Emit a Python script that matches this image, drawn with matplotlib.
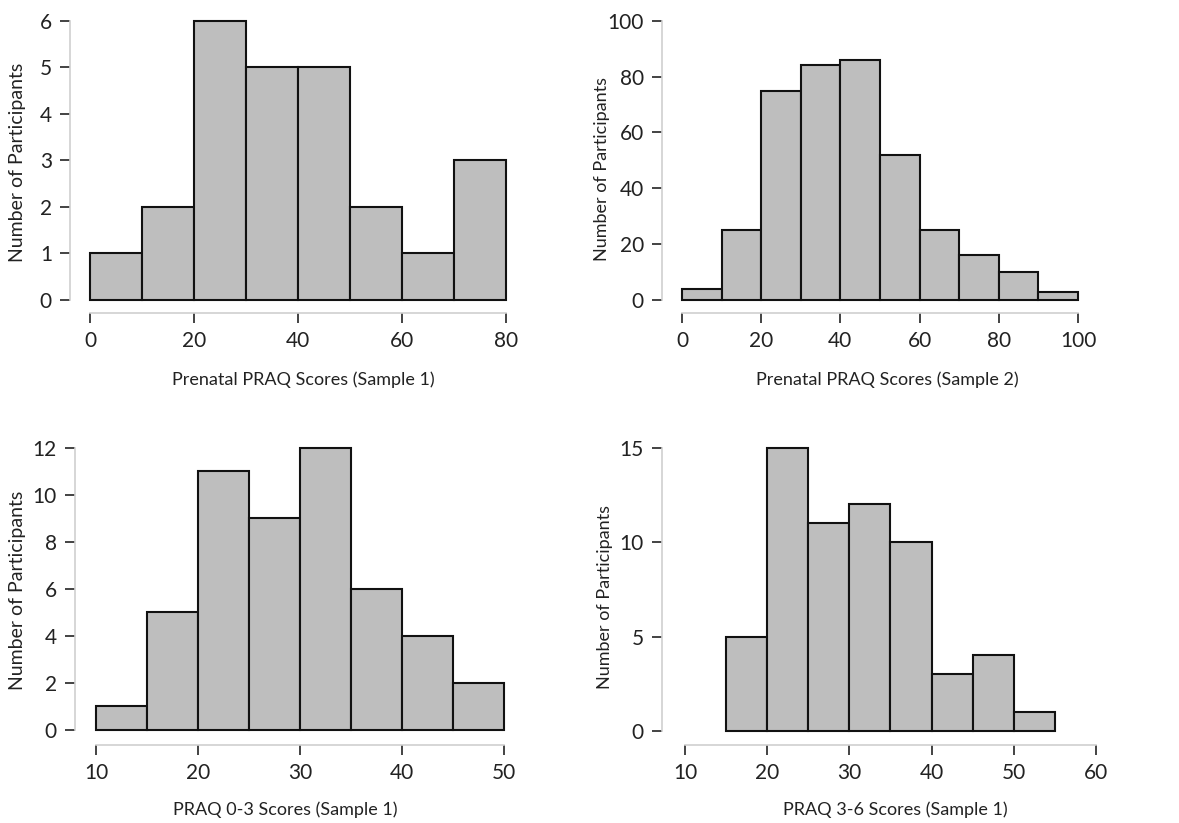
import numpy as np
import matplotlib.pyplot as plt

plt.rcParams['font.family'] = ['Lato', 'DejaVu Sans']

# histogram counts and bin edges
edges_prenatal_1 = [0, 10, 20, 30, 40, 50, 60, 70, 80]
counts_prenatal_1 = [1, 2, 6, 5, 5, 2, 1, 3]

edges_prenatal_2 = [0, 10, 20, 30, 40, 50, 60, 70, 80, 90, 100]
counts_prenatal_2 = [4, 25, 75, 84, 86, 52, 25, 16, 10, 3]

edges_praq_03 = [10, 15, 20, 25, 30, 35, 40, 45, 50]
counts_praq_03 = [1, 5, 11, 9, 12, 6, 4, 2]

edges_praq_36 = [15, 20, 25, 30, 35, 40, 45, 50, 55]
counts_praq_36 = [5, 15, 11, 12, 10, 3, 4, 1]

xticks_1 = [0, 20, 40, 60, 80]
yticks_1 = [0, 1, 2, 3, 4, 5, 6]
xticks_2 = [0, 20, 40, 60, 80, 100]
yticks_2 = [0, 20, 40, 60, 80, 100]
xticks_3 = [10, 20, 30, 40, 50]
yticks_3 = [0, 2, 4, 6, 8, 10, 12]
xticks_4 = [10, 20, 30, 40, 50, 60]
yticks_4 = [0, 5, 10, 15]

xlabels = ["Prenatal PRAQ Scores (Sample 1)", "Prenatal PRAQ Scores (Sample 2)",
           "PRAQ 0-3 Scores (Sample 1)", "PRAQ 3-6 Scores (Sample 1)"]

W, H = 1179, 823
fig = plt.figure(figsize=(W / 100, H / 100), dpi=100)


def make_axes(L, R, B, T, xmap, ymap):
    # place axes by pixel box, then pick limits so data lands on the right pixels
    ax = fig.add_axes([L / W, 1 - B / H, (R - L) / W, (B - T) / H])
    v0, p0, v1, p1 = xmap
    s = (v1 - v0) / (p1 - p0)
    ax.set_xlim(v0 + (L - p0) * s, v0 + (R - p0) * s)
    v0, p0, v1, p1 = ymap
    s = (v1 - v0) / (p1 - p0)
    ax.set_ylim(v0 + (B - p0) * s, v0 + (T - p0) * s)
    return ax


panels = [
    (edges_prenatal_1, counts_prenatal_1, xticks_1, yticks_1,
     (70, 520, 313, 10), (0, 90, 80, 506), (0, 300, 6, 20.7), (303, 380), (18, 162), 14),
    (edges_prenatal_2, counts_prenatal_2, xticks_2, yticks_2,
     (662, 1092, 313, 10), (0, 682, 100, 1078), (0, 300, 100, 20.7), (887, 380), (602, 169), 13),
    (edges_praq_03, counts_praq_03, xticks_3, yticks_3,
     (75, 518, 745, 437), (10, 96, 50, 504), (0, 730, 12, 447.7), (285, 810), (18, 590), 14),
    (edges_praq_36, counts_praq_36, xticks_4, yticks_4,
     (662, 1110, 745, 437), (10, 685, 60, 1096), (0, 731, 15, 447.7), (895, 810), (605, 597), 13),
]

for i, (edges, counts, xt, yt, rect, xmap, ymap, xlpos, ylpos, ylsize) in enumerate(panels):
    ax = make_axes(*rect, xmap, ymap)
    edges = np.array(edges)
    ax.bar(edges[:-1], counts, width=np.diff(edges), align='edge',
           color='#bebebe', edgecolor='#111111', linewidth=1.5)
    ax.set_xticks(xt)
    ax.set_yticks(yt)
    for side in ['top', 'right']:
        ax.spines[side].set_visible(False)
    ax.spines['left'].set_bounds(yt[0], yt[-1])
    ax.spines['bottom'].set_bounds(xt[0], xt[-1])
    for side in ['left', 'bottom']:
        ax.spines[side].set_color('#cfcfcf')
        ax.spines[side].set_linewidth(1.2)
    ax.tick_params(length=7, width=1.2, color='#222222', labelsize=15,
                   labelcolor='#222222', pad=6)
    ax.set_facecolor('none')
    fig.text(xlpos[0] / W, 1 - xlpos[1] / H, xlabels[i], ha='center', va='center',
             fontsize=13, color='#222222')
    fig.text(ylpos[0] / W, 1 - ylpos[1] / H, "Number of Participants", ha='center',
             va='center', rotation=90, fontsize=ylsize, color='#222222')

plt.savefig("out.png", dpi=100)
